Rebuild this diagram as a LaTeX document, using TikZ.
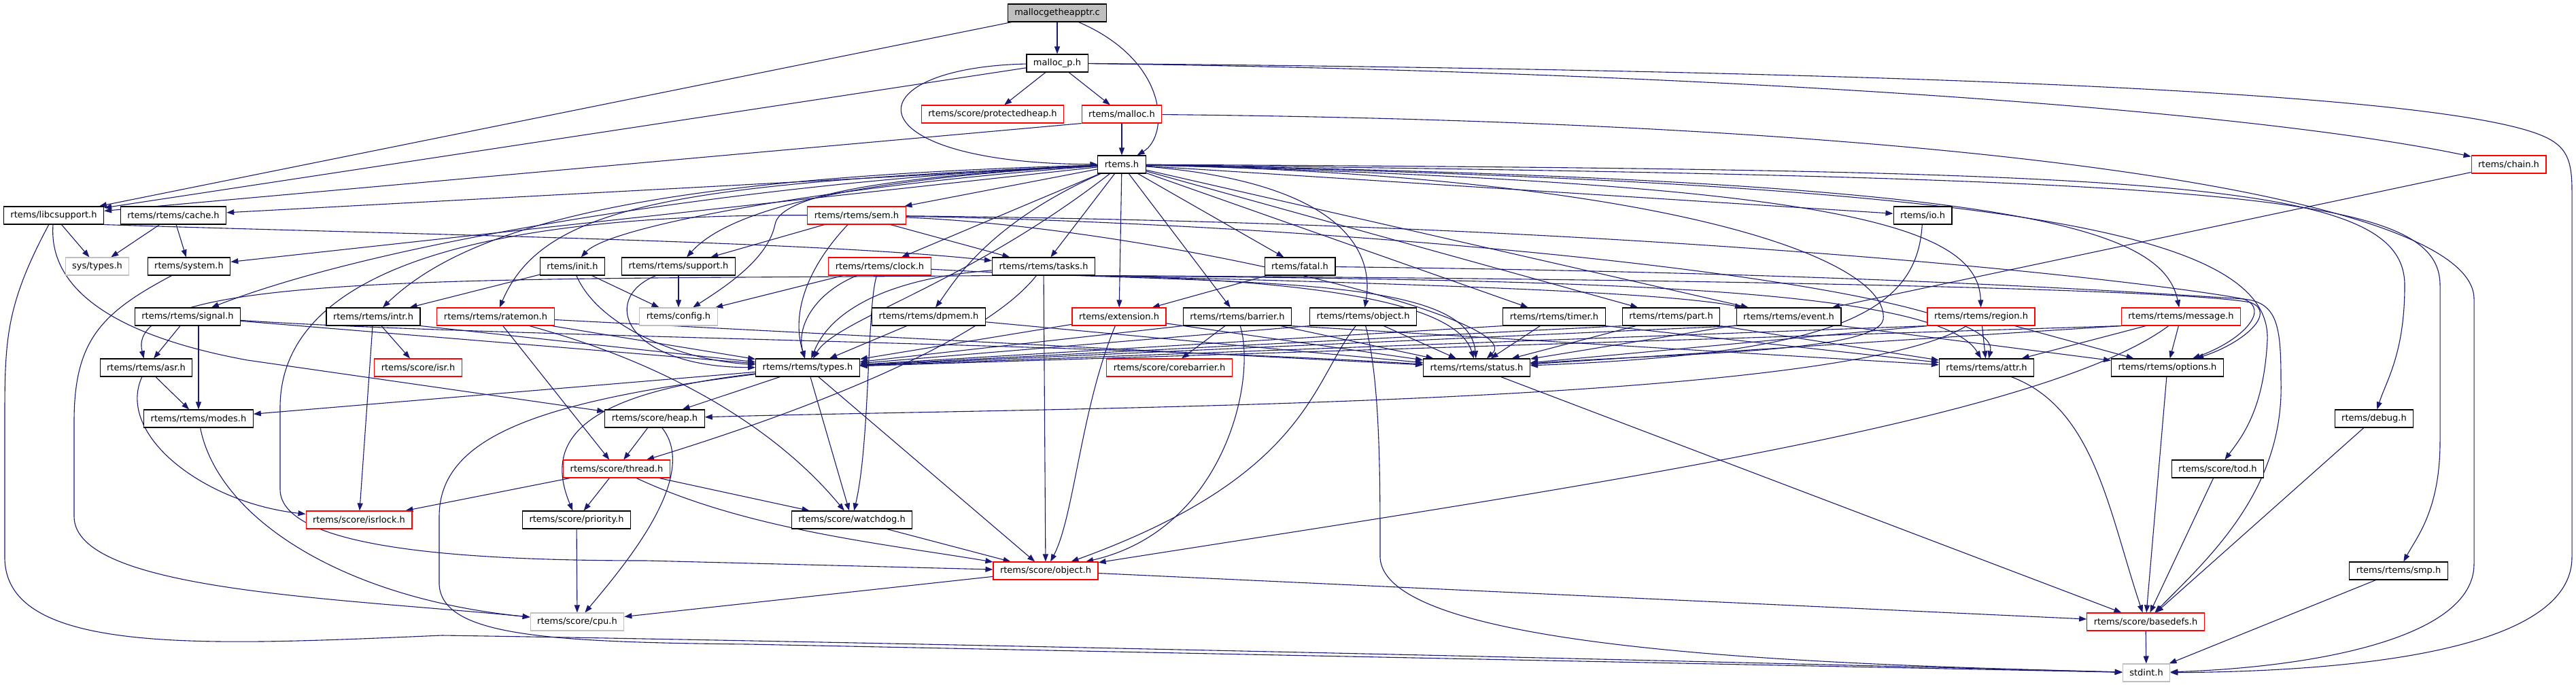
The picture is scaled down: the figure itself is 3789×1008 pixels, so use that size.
\documentclass[tikz,border=0pt]{standalone}
\usepackage{fontspec}
\setmainfont{DejaVu Sans}
\usetikzlibrary{positioning,arrows.meta,backgrounds}
\definecolor{edgeblue}{RGB}{25,25,112}
\definecolor{greyext}{RGB}{191,191,191}
\tikzset{
    incgraph/.style={
        x=1pt, y=-1pt,
        font=\fontsize{13}{15}\selectfont,
        % Stile per i file documentati (bordo nero)
        header/.style={draw=black, fill=white, rectangle, line width=1.1pt,
                       minimum height=26pt, inner xsep=10pt, inner ysep=0pt},
        % Stile per i file con grafo troncato (bordo rosso)
        truncated/.style={header, draw=red},
        % Stile per i file esterni (bordo grigio)
        external/.style={header, draw=greyext},
        % Stile per il file sorgente (sfondo grigio)
        mainfile/.style={header, fill=greyext},
        % Stile per le inclusioni (frecce blu)
        inclusion/.style={draw=edgeblue, line width=1.1pt,
                          -{Triangle[length=11pt,width=8pt]}},
        % Stile per gruppi di inclusioni con edge
        includes/.style={every edge/.style={inclusion}}
    }
}
\begin{document}
\begin{tikzpicture}[incgraph]
\useasboundingbox (0,0) rectangle (3789,1008);
\node[mainfile] (root) at (1555,19) {mallocgetheapptr.c};
\node[header] (mallocp) at (1555,93) {malloc\_p.h};
\node[truncated] (protheap) at (1460,168) {rtems/score/protectedheap.h};
\node[truncated] (malloch) at (1650,168) {rtems/malloc.h};
\node[header] (rtemsh) at (1650,242) {rtems.h};
\node[truncated] (chain) at (3690,242) {rtems/chain.h};
\node[header] (libcsupport) at (79,317) {rtems/libcsupport.h};
\node[header] (cache) at (255,317) {rtems/rtems/cache.h};
\node[truncated] (sem) at (1260,317) {rtems/rtems/sem.h};
\node[header] (io) at (2828,317) {rtems/io.h};
\node[external] (systypes) at (143,392) {sys/types.h};
\node[header] (system) at (278,392) {rtems/system.h};
\node[header] (init) at (842,392) {rtems/init.h};
\node[header] (support) at (998,392) {rtems/rtems/support.h};
\node[truncated] (clock) at (1294,392) {rtems/rtems/clock.h};
\node[header] (tasks) at (1535,392) {rtems/rtems/tasks.h};
\node[header] (fatal) at (1912,392) {rtems/fatal.h};
\node[header] (signal) at (276,466) {rtems/rtems/signal.h};
\node[header] (intr) at (549,466) {rtems/rtems/intr.h};
\node[truncated] (ratemon) at (729,466) {rtems/rtems/ratemon.h};
\node[external] (config) at (998,466) {rtems/config.h};
\node[header] (dpmem) at (1366,466) {rtems/rtems/dpmem.h};
\node[truncated] (extension) at (1646,466) {rtems/extension.h};
\node[header] (barrier) at (1820,466) {rtems/rtems/barrier.h};
\node[header] (object) at (2005,466) {rtems/rtems/object.h};
\node[header] (timer) at (2286,466) {rtems/rtems/timer.h};
\node[header] (part) at (2458,466) {rtems/rtems/part.h};
\node[header] (event) at (2631,466) {rtems/rtems/event.h};
\node[truncated] (region) at (2914,466) {rtems/rtems/region.h};
\node[truncated] (message) at (3208,466) {rtems/rtems/message.h};
\node[header] (asr) at (215,541) {rtems/rtems/asr.h};
\node[truncated] (isr) at (615,541) {rtems/score/isr.h};
\node[header] (types) at (1188,541) {rtems/rtems/types.h};
\node[truncated] (corebarrier) at (1720,541) {rtems/score/corebarrier.h};
\node[header] (status) at (2172,541) {rtems/rtems/status.h};
\node[header] (attr) at (2922,541) {rtems/rtems/attr.h};
\node[header] (options) at (3188,541) {rtems/rtems/options.h};
\node[header] (modes) at (292,616) {rtems/rtems/modes.h};
\node[header] (heap) at (963,616) {rtems/score/heap.h};
\node[header] (debug) at (3492,616) {rtems/debug.h};
\node[truncated] (thread) at (907,690) {rtems/score/thread.h};
\node[header] (tod) at (3262,690) {rtems/score/tod.h};
\node[truncated] (isrlock) at (528,765) {rtems/score/isrlock.h};
\node[header] (priority) at (848,765) {rtems/score/priority.h};
\node[header] (watchdog) at (1253,765) {rtems/score/watchdog.h};
\node[truncated] (scoreobject) at (1538,840) {rtems/score/object.h};
\node[header] (smp) at (3528,840) {rtems/rtems/smp.h};
\node[external] (cpu) at (849,915) {rtems/score/cpu.h};
\node[truncated] (basedefs) at (3156,915) {rtems/score/basedefs.h};
\node[external] (stdint) at (3157,990) {stdint.h};
\begin{pgfonlayer}{background}
\fill[white] (0,0) rectangle (3789,1008);
\path[includes] (root) edge (libcsupport) edge (mallocp);
\draw[inclusion] (root) .. controls (1720,90) and (1720,200) .. (rtemsh);
\path[includes] (mallocp) edge (libcsupport) edge (protheap) edge (malloch);
\draw[inclusion] (mallocp) .. controls (1250,100) and (1250,240) .. (rtemsh);
\draw[inclusion] (mallocp) .. controls (2500,105) and (3300,160) .. (chain);
\draw[inclusion] (mallocp) .. controls (2900,105) and (3600,140) .. (3740,200) .. controls (3775,215) and (3783,235) .. (3783,280) -- (3783,820) .. controls (3783,960) and (3450,988) .. (stdint);
\draw[inclusion] (malloch.south west) -- (libcsupport);
\path[includes] (malloch) edge (rtemsh);
\draw[inclusion] (malloch) .. controls (2900,180) and (3639,290) .. (3639,440) -- (3639,830) .. controls (3639,940) and (3400,982) .. (stdint);
\path[includes] (chain) edge (event);
\path[includes] (rtemsh) edge (cache) edge (sem) edge (io) edge (system) edge (tasks) edge (clock) edge (fatal) edge (extension) edge (barrier) edge (timer) edge (part) edge (event);
\draw[inclusion] (rtemsh) .. controls (1300,260) and (1080,300) .. (support);
\draw[inclusion] (rtemsh) .. controls (1250,270) and (900,330) .. (init);
\draw[inclusion] (rtemsh) .. controls (1400,255) and (1150,275) .. (1140,330) .. controls (1130,380) and (1070,420) .. (config);
\draw[inclusion] (rtemsh) .. controls (1000,270) and (800,300) .. (ratemon);
\draw[inclusion] (rtemsh) .. controls (1000,260) and (700,320) .. (intr);
\draw[inclusion] (rtemsh) .. controls (1200,260) and (600,340) .. (signal);
\draw[inclusion] (rtemsh) .. controls (1450,330) and (1400,420) .. (dpmem);
\draw[inclusion] (rtemsh) .. controls (1420,420) and (1230,470) .. (types);
\draw[inclusion] (rtemsh) .. controls (1990,270) and (2020,380) .. (object);
\draw[inclusion] (rtemsh) .. controls (2700,270) and (2910,330) .. (region);
\draw[inclusion] (rtemsh) .. controls (2950,265) and (3180,330) .. (message);
\draw[inclusion] (rtemsh) .. controls (2450,260) and (2780,380) .. (2770,470) .. controls (2760,520) and (2450,520) .. (status);
\draw[inclusion] (rtemsh) .. controls (3200,250) and (3537,265) .. (3537,420) .. controls (3537,520) and (3510,560) .. (debug);
\draw[inclusion] (rtemsh) .. controls (3300,262) and (3589,285) .. (3589,420) -- (3589,650) .. controls (3589,750) and (3555,790) .. (smp);
\draw[inclusion] (rtemsh) .. controls (2950,270) and (3340,340) .. (3335,500) .. controls (3330,600) and (3300,640) .. (tod);
\path[includes] (sem) edge (support) edge (tasks);
\draw[inclusion] (sem) .. controls (1200,380) and (1160,450) .. (types);
\draw[inclusion] (sem) .. controls (700,315) and (412,400) .. (412,600) -- (412,720) .. controls (412,810) and (700,825) .. (950,825) -- (scoreobject);
\draw[inclusion] (sem) .. controls (1700,335) and (2250,470) .. (status);
\draw[inclusion] (sem) .. controls (2000,330) and (2950,420) .. (attr);
\draw[inclusion] (sem) .. controls (2500,330) and (3200,420) .. (3300,440) .. controls (3340,455) and (3300,500) .. (options);
\draw[inclusion] (tasks.south west) .. controls (700,412) and (180,400) .. (asr);
\draw[inclusion] (tasks) .. controls (1450,500) and (1200,600) .. (thread);
\draw[inclusion] (tasks) .. controls (1300,410) and (1220,460) .. (types);
\draw[inclusion] (tasks.south east) .. controls (2050,415) and (2150,470) .. (status);
\draw[inclusion] (tasks.south east) .. controls (2100,418) and (2450,430) .. (event);
\draw[inclusion] (tasks.south east) .. controls (2300,412) and (2850,420) .. (attr);
\draw[inclusion] (tasks.south east) .. controls (2500,410) and (3200,425) .. (3310,445) .. controls (3350,460) and (3300,505) .. (options);
\path[includes] (tasks) edge (scoreobject);
\path[includes] (libcsupport) edge (systypes);
\draw[inclusion] (libcsupport.south east) .. controls (600,345) and (1200,355) .. (tasks);
\draw[inclusion] (libcsupport) .. controls (70,440) and (200,500) .. (364,530) -- (heap);
\draw[inclusion] (libcsupport) .. controls (8,450) and (7,500) .. (7,620) -- (7,820) .. controls (7,965) and (300,950) .. (650,935) .. controls (1000,940) and (2000,960) .. (stdint);
\path[includes] (cache) edge (systypes) edge (system);
\draw[inclusion] (system) .. controls (150,460) and (109,500) .. (109,620) -- (109,760) .. controls (109,870) and (500,880) .. (cpu);
\path[includes] (init) edge (intr) edge (config);
\draw[inclusion] (init) .. controls (880,480) and (1000,530) .. (types);
\path[includes] (support) edge (config);
\draw[inclusion] (support) .. controls (880,440) and (920,540) .. (types);
\path[includes] (clock) edge (config);
\draw[inclusion] (clock) .. controls (1800,420) and (2160,400) .. (status);
\draw[inclusion] (clock) .. controls (1200,430) and (1170,480) .. (types);
\draw[inclusion] (clock) .. controls (1275,450) and (1280,650) .. (watchdog);
\path[includes] (fatal) edge (extension);
\draw[inclusion] (fatal) .. controls (2600,400) and (3000,420) .. (3300,440) .. controls (3350,445) and (3355,480) .. (3355,560) .. controls (3360,720) and (3250,820) .. (basedefs);
\path[includes] (signal) edge (asr) edge (types);
\draw[inclusion] (signal.south -| modes) -- (modes);
\draw[inclusion] (signal) .. controls (700,495) and (1600,505) .. (status);
\path[includes] (intr) edge (isr) edge (isrlock);
\path[includes] (intr.south east) edge (types);
\path[includes] (ratemon) edge (thread) edge (types) edge (status);
\draw[inclusion] (ratemon) .. controls (1000,540) and (1150,640) .. (watchdog);
\path[includes] (dpmem) edge (types) edge (status);
\path[includes] (extension) edge (types) edge (status);
\draw[inclusion] (extension) .. controls (1590,600) and (1580,760) .. (scoreobject);
\path[includes] (barrier) edge (corebarrier) edge (status);
\path[includes] (barrier.south west) edge (types);
\path[includes] (barrier.south east) edge (attr);
\draw[inclusion] (barrier) .. controls (1849,560) and (1800,780) .. (scoreobject);
\path[includes] (object) edge (status);
\path[includes] (object.south west) edge (types);
\draw[inclusion] (object) .. controls (1930,560) and (1925,700) .. (scoreobject);
\draw[inclusion] (object) .. controls (2030,560) and (2030,700) .. (2030,820) .. controls (2035,960) and (2700,978) .. (stdint);
\path[includes] (timer) edge (status);
\path[includes] (timer.south west) edge (types);
\path[includes] (timer.south east) edge (attr);
\path[includes] (part) edge (status);
\path[includes] (part.south west) edge (types);
\path[includes] (part.south east) edge (attr);
\path[includes] (event) edge (status);
\path[includes] (event.south west) edge (types);
\path[includes] (event.south east) edge (options);
\path[includes] (region) edge (attr) edge (options);
\path[includes] (region.south west) edge (types) edge (status);
\draw[inclusion] (region) .. controls (2700,600) and (1500,600) .. (heap);
\path[includes] (message) edge (attr) edge (options);
\path[includes] (message.south west) edge (types) edge (status);
\draw[inclusion] (message) .. controls (3000,620) and (2300,720) .. (scoreobject);
\draw[inclusion] (io) .. controls (2820,460) and (2700,520) .. (status);
\path[includes] (asr) edge (modes);
\draw[inclusion] (asr) .. controls (170,640) and (300,740) .. (isrlock);
\draw[inclusion] (modes) .. controls (320,760) and (500,880) .. (cpu);
\path[includes] (types) edge (modes) edge (heap) edge (watchdog) edge (scoreobject);
\draw[inclusion] (types) .. controls (850,580) and (800,650) .. (priority);
\draw[inclusion] (types) .. controls (800,590) and (646,640) .. (646,760) -- (646,860) .. controls (650,935) and (800,945) .. (1100,948) -- (stdint);
\path[includes] (heap) edge (thread);
\draw[inclusion] (heap) .. controls (1030,700) and (920,830) .. (cpu);
\path[includes] (thread) edge (isrlock) edge (priority) edge (watchdog);
\draw[inclusion] (thread) .. controls (1100,780) and (1300,800) .. (scoreobject);
\path[includes] (priority) edge (cpu);
\path[includes] (watchdog) edge (scoreobject);
\path[includes] (scoreobject) edge (cpu) edge (basedefs);
\path[includes] (status) edge (basedefs);
\draw[inclusion] (attr) .. controls (3080,600) and (3101,750) .. (basedefs);
\path[includes] (options) edge (basedefs);
\path[includes] (tod) edge (basedefs);
\path[includes] (debug) edge (basedefs);
\path[includes] (smp) edge (stdint);
\path[includes] (basedefs) edge (stdint);
\end{pgfonlayer}
\end{tikzpicture}
\end{document}
